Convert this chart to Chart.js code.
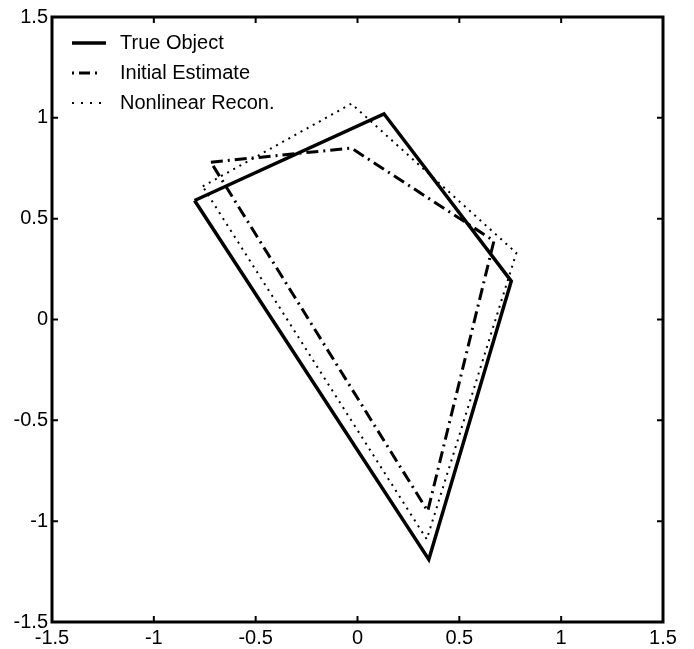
<!DOCTYPE html>
<html>
<head>
<meta charset="utf-8">
<script src="https://cdn.jsdelivr.net/npm/chart.js@4.4.0/dist/chart.umd.min.js"></script>
<style>
  html, body { margin: 0; padding: 0; background: #fff; }
  #wrap { width: 694px; height: 649px; }
</style>
</head>
<body>
<div id="wrap"><canvas id="c" width="694" height="649"></canvas></div>
<script>
// ---- data ----
const seriesNames = ["True Object", "Initial Estimate", "Nonlinear Recon."];
const trueX  = [-0.80, 0.13, 0.755, 0.35, -0.80];
const trueY  = [0.59, 1.02, 0.19, -1.19, 0.59];
const initX  = [-0.72, -0.03, 0.67, 0.345, -0.72];
const initY  = [0.78, 0.85, 0.39, -0.95, 0.78];
const reconX = [-0.76, -0.03, 0.78, 0.34, -0.76];
const reconY = [0.66, 1.07, 0.33, -1.09, 0.66];
const xTicks = [-1.5, -1, -0.5, 0, 0.5, 1, 1.5];
const yTicks = [-1.5, -1, -0.5, 0, 0.5, 1, 1.5];

const toPts = (xs, ys) => xs.map((x, i) => ({ x: x, y: ys[i] }));
const FONT = "'Liberation Sans', Arial, Helvetica, sans-serif";

const framePlugin = {
  id: 'frame',
  afterDraw(chart) {
    const ctx = chart.ctx, a = chart.chartArea;
    const xs = chart.scales.x, ys = chart.scales.y;
    ctx.save();
    ctx.strokeStyle = '#000';
    ctx.setLineDash([]);
    ctx.lineWidth = 2;
    const tl = 6;
    xTicks.forEach(v => {
      const px = xs.getPixelForValue(v);
      ctx.beginPath();
      ctx.moveTo(px, a.bottom); ctx.lineTo(px, a.bottom - tl);
      ctx.moveTo(px, a.top); ctx.lineTo(px, a.top + tl);
      ctx.stroke();
    });
    yTicks.forEach(v => {
      const py = ys.getPixelForValue(v);
      ctx.beginPath();
      ctx.moveTo(a.left, py); ctx.lineTo(a.left + tl, py);
      ctx.moveTo(a.right, py); ctx.lineTo(a.right - tl, py);
      ctx.stroke();
    });
    ctx.lineWidth = 3;
    ctx.strokeRect(a.left, a.top, a.right - a.left, a.bottom - a.top);

    // legend
    const rows = [43, 73, 103];
    chart.data.datasets.forEach((ds, i) => {
      const y = rows[i];
      ctx.beginPath();
      ctx.lineWidth = ds.borderWidth;
      ctx.setLineDash(ds.legendDash || []);
      ctx.moveTo(72, y); ctx.lineTo(106, y);
      ctx.stroke();
      ctx.setLineDash([]);
      ctx.fillStyle = '#000';
      ctx.font = '20px ' + FONT;
      ctx.textBaseline = 'middle';
      ctx.textAlign = 'left';
      ctx.fillText(ds.label, 120, y);
    });
    ctx.restore();
  }
};

new Chart(document.getElementById('c'), {
  type: 'scatter',
  data: {
    datasets: [
      { label: seriesNames[0], data: toPts(trueX, trueY), showLine: true,
        borderColor: '#000', borderWidth: 3.5, pointRadius: 0, tension: 0, fill: false,
        borderJoinStyle: 'miter', legendDash: [] },
      { label: seriesNames[1], data: toPts(initX, initY), showLine: true,
        borderColor: '#000', borderWidth: 3, pointRadius: 0, tension: 0, fill: false,
        borderDash: [12, 5, 2, 5], legendDash: [2, 5, 11, 5, 2, 10] },
      { label: seriesNames[2], data: toPts(reconX, reconY), showLine: true,
        borderColor: '#000', borderWidth: 2, pointRadius: 0, tension: 0, fill: false,
        borderDash: [2, 5], legendDash: [2, 7] }
    ]
  },
  options: {
    responsive: false,
    animation: false,
    devicePixelRatio: 1,
    layout: { padding: { left: 0, top: 17, right: 31, bottom: 0 } },
    plugins: { legend: { display: false }, tooltip: { enabled: false } },
    scales: {
      x: {
        type: 'linear', min: -1.5, max: 1.5,
        afterBuildTicks: s => { s.ticks = xTicks.map(v => ({ value: v })); },
        afterFit: s => { s.height = 27; },
        grid: { display: false, drawTicks: false },
        border: { display: false },
        ticks: { color: '#000', font: { family: FONT, size: 20 }, padding: 4,
                 maxRotation: 0, autoSkip: false, callback: v => String(v) }
      },
      y: {
        type: 'linear', min: -1.5, max: 1.5,
        afterBuildTicks: s => { s.ticks = yTicks.map(v => ({ value: v })); },
        afterFit: s => { s.width = 52; },
        grid: { display: false, drawTicks: false },
        border: { display: false },
        ticks: { color: '#000', font: { family: FONT, size: 20 }, padding: 4,
                 autoSkip: false, callback: v => String(v) }
      }
    }
  },
  plugins: [framePlugin]
});
</script>
</body>
</html>
